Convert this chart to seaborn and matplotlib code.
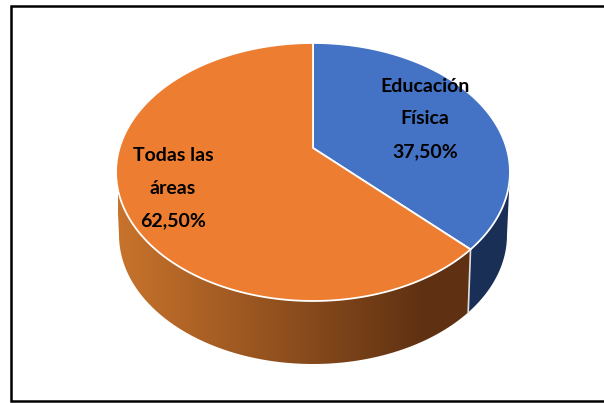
import numpy as np
import matplotlib
matplotlib.use('Agg')
import matplotlib.pyplot as plt
from matplotlib.patches import Polygon
import seaborn as sns

labels = ['Educación\nFísica\n37,50%', 'Todas las\náreas\n62,50%']
values = [37.5, 62.5]
top_colors = ['#4472c4', '#ed7d31']
wall_blue = '#1a2f55'
wall_light = '#c8732c'
wall_dark = '#5f3112'
label_pos = [(425, 119), (173, 188)]

sns.set_theme(style='white')
plt.rcParams['font.family'] = ['Lato', 'DejaVu Sans']

# pie geometry in pixels
cx, cy = 313, 172      # centre of the top ellipse
a, b, c, k = 193.5, 129, 24, 0.186   # perspective of the disc
depth = 63
shrink = 0.985
tangent = np.degrees(np.arccos(-k))   # where the rim is widest


def rim(angle):
    # angle in degrees clockwise from 12 o'clock -> screen position
    t = np.radians(angle)
    u, v = np.sin(t), np.cos(t)
    w = 1 + k * v
    return cx + a * u / w, cy - (b * v + c) / w


def lower(x, y):
    return cx + (x - cx) * shrink, y + depth


def wall(start, end):
    angs = np.linspace(start, end, 200)
    upper = [rim(t) for t in angs]
    low = [lower(x, y) for x, y in upper]
    return upper + low[::-1]


fig = plt.figure(figsize=(6.04, 4.03), dpi=100)
ax = fig.add_axes([0, 0, 1, 1])
ax.axis('off')

# frame, no right side in the reference
ax.plot([604, 11, 11, 604], [6, 6, 401, 401], color='black', lw=1.8, solid_joinstyle='miter')

shares = np.array(values) / sum(values) * 360
edges = np.concatenate([[0], np.cumsum(shares)])

# side wall, orange part has a left to right gradient
ax.add_patch(Polygon(wall(tangent, edges[1]), closed=True, fc=wall_blue, ec='none'))
orange_wall = Polygon(wall(edges[1], 360 - tangent), closed=True, fc='none', ec='none')
ax.add_patch(orange_wall)
cmap = sns.blend_palette([wall_light, wall_dark], as_cmap=True)
grad = ax.imshow(np.linspace(0, 1, 256).reshape(1, -1), cmap=cmap, aspect='auto',
                 extent=(118, 425, 380, 150), zorder=1)
grad.set_clip_path(orange_wall)
# flat dark part right of the gradient
dark = ax.imshow(np.ones((1, 2)), cmap=cmap, vmin=0, vmax=1, aspect='auto',
                 extent=(425, 480, 380, 150), zorder=1)
dark.set_clip_path(orange_wall)

ax.set_xlim(0, 604)
ax.set_ylim(403, 0)

# white seam on the wall
x0, y0 = rim(edges[1])
ax.plot([x0, lower(x0, y0)[0]], [y0, lower(x0, y0)[1]], color='#e0e0e0', lw=1.2, zorder=2)

# top slices
apex = rim(0)[0], cy - c
for i in range(len(values)):
    angs = np.linspace(edges[i], edges[i + 1], 200)
    pts = [apex] + [rim(t) for t in angs]
    ax.add_patch(Polygon(pts, closed=True, fc=top_colors[i], ec='white', lw=1.3,
                         joinstyle='round', zorder=3))

for txt, (tx, ty) in zip(labels, label_pos):
    ax.text(tx, ty, txt, ha='center', va='center', fontsize=14, fontweight='bold',
            color='black', linespacing=2.1, zorder=4)

fig.savefig('out.png', dpi=100, facecolor='white')
